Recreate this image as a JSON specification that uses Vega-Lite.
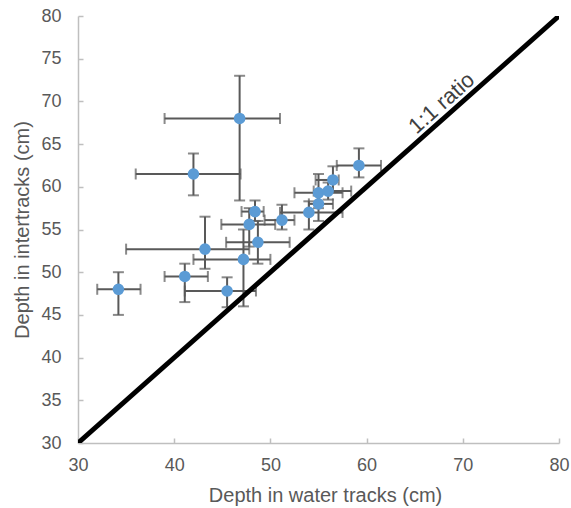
{
  "$schema": "https://vega.github.io/schema/vega-lite/v6.json",
  "width": 481,
  "height": 427,
  "autosize": "none",
  "padding": {"left": 78, "top": 16, "right": 12, "bottom": 65},
  "background": "white",
  "config": {
    "view": {"stroke": null},
    "font": "Liberation Sans",
    "axis": {
      "grid": false,
      "domainColor": "#bfbfbf",
      "domainWidth": 1.5,
      "tickColor": "#bfbfbf",
      "tickWidth": 1.5,
      "tickSize": -5,
      "labelColor": "#595959",
      "labelFontSize": 18,
      "labelFlush": false,
      "titleColor": "#595959",
      "titleFontSize": 20,
      "titleFontWeight": "normal"
    }
  },
  "datasets": {
    "pts": [
      {"water": 34.2, "inter": 48.0, "wlo": 32.0, "whi": 36.5, "ilo": 45.0, "ihi": 50.0},
      {"water": 41.1, "inter": 49.5, "wlo": 39.0, "whi": 43.5, "ilo": 46.5, "ihi": 51.0},
      {"water": 45.5, "inter": 47.8, "wlo": 41.1, "whi": 48.5, "ilo": 45.9, "ihi": 49.4},
      {"water": 47.2, "inter": 51.5, "wlo": 42.0, "whi": 50.0, "ilo": 46.0, "ihi": 55.0},
      {"water": 43.2, "inter": 52.7, "wlo": 35.0, "whi": 47.8, "ilo": 50.4, "ihi": 56.5},
      {"water": 48.7, "inter": 53.5, "wlo": 45.4, "whi": 52.0, "ilo": 51.0, "ihi": 56.0},
      {"water": 47.8, "inter": 55.6, "wlo": 44.9, "whi": 50.5, "ilo": 53.0, "ihi": 57.5},
      {"water": 48.4, "inter": 57.1, "wlo": 47.0, "whi": 49.3, "ilo": 56.0, "ihi": 58.4},
      {"water": 51.2, "inter": 56.1, "wlo": 49.4, "whi": 52.5, "ilo": 55.0, "ihi": 57.9},
      {"water": 54.0, "inter": 57.0, "wlo": 51.0, "whi": 57.5, "ilo": 55.0, "ihi": 58.3},
      {"water": 55.0, "inter": 58.0, "wlo": 54.0, "whi": 56.5, "ilo": 56.0, "ihi": 59.5},
      {"water": 55.0, "inter": 59.3, "wlo": 52.5, "whi": 57.5, "ilo": 57.5, "ihi": 61.5},
      {"water": 56.0, "inter": 59.5, "wlo": 54.5, "whi": 58.4, "ilo": 58.5, "ihi": 60.5},
      {"water": 56.5, "inter": 60.8, "wlo": 54.7, "whi": 57.1, "ilo": 59.5, "ihi": 62.4},
      {"water": 59.2, "inter": 62.5, "wlo": 56.9, "whi": 61.5, "ilo": 61.1, "ihi": 64.5},
      {"water": 46.8, "inter": 68.0, "wlo": 39.0, "whi": 51.0, "ilo": 58.4, "ihi": 73.0},
      {"water": 42.0, "inter": 61.5, "wlo": 36.0, "whi": 46.9, "ilo": 59.0, "ihi": 63.9}
    ],
    "ratio": [
      {"water": 30, "inter": 30},
      {"water": 80, "inter": 80}
    ],
    "lab": [
      {"water": 67.8, "inter": 69.8, "text": "1:1 ratio"}
    ]
  },
  "layer": [
    {
      "data": {"name": "pts"},
      "mark": {"type": "errorbar", "ticks": {"size": 11, "thickness": 2, "color": "#595959"}, "rule": {"strokeWidth": 2, "color": "#595959"}},
      "encoding": {
        "x": {"field": "wlo", "type": "quantitative", "scale": {"domain": [30, 80], "nice": false},
          "title": "Depth in water tracks (cm)",
          "axis": {"values": [30, 40, 50, 60, 70, 80], "labelPadding": 18, "titlePadding": 11, "titleX": 247}},
        "x2": {"field": "whi"},
        "y": {"field": "inter", "type": "quantitative", "scale": {"domain": [30, 80], "nice": false},
          "title": "Depth in intertracks (cm)",
          "axis": {"values": [30, 35, 40, 45, 50, 55, 60, 65, 70, 75, 80], "labelPadding": 22, "titlePadding": 8}}
      }
    },
    {
      "data": {"name": "pts"},
      "mark": {"type": "errorbar", "ticks": {"size": 11, "thickness": 2, "color": "#595959"}, "rule": {"strokeWidth": 2, "color": "#595959"}},
      "encoding": {
        "y": {"field": "ilo", "type": "quantitative", "title": "Depth in intertracks (cm)"},
        "y2": {"field": "ihi"},
        "x": {"field": "water", "type": "quantitative", "title": "Depth in water tracks (cm)"}
      }
    },
    {
      "data": {"name": "ratio"},
      "mark": {"type": "line", "color": "black", "strokeWidth": 5, "clip": true},
      "encoding": {
        "x": {"field": "water", "type": "quantitative", "title": "Depth in water tracks (cm)"},
        "y": {"field": "inter", "type": "quantitative", "title": "Depth in intertracks (cm)"}
      }
    },
    {
      "data": {"name": "pts"},
      "mark": {"type": "point", "filled": true, "opacity": 1, "color": "#5B9BD5", "size": 135},
      "encoding": {
        "x": {"field": "water", "type": "quantitative", "title": "Depth in water tracks (cm)"},
        "y": {"field": "inter", "type": "quantitative", "title": "Depth in intertracks (cm)"}
      }
    },
    {
      "data": {"name": "lab"},
      "mark": {"type": "text", "angle": -41.6, "fontSize": 22, "color": "#404040", "align": "center", "baseline": "middle"},
      "encoding": {
        "x": {"field": "water", "type": "quantitative", "title": "Depth in water tracks (cm)"},
        "y": {"field": "inter", "type": "quantitative", "title": "Depth in intertracks (cm)"},
        "text": {"field": "text"}
      }
    }
  ]
}
